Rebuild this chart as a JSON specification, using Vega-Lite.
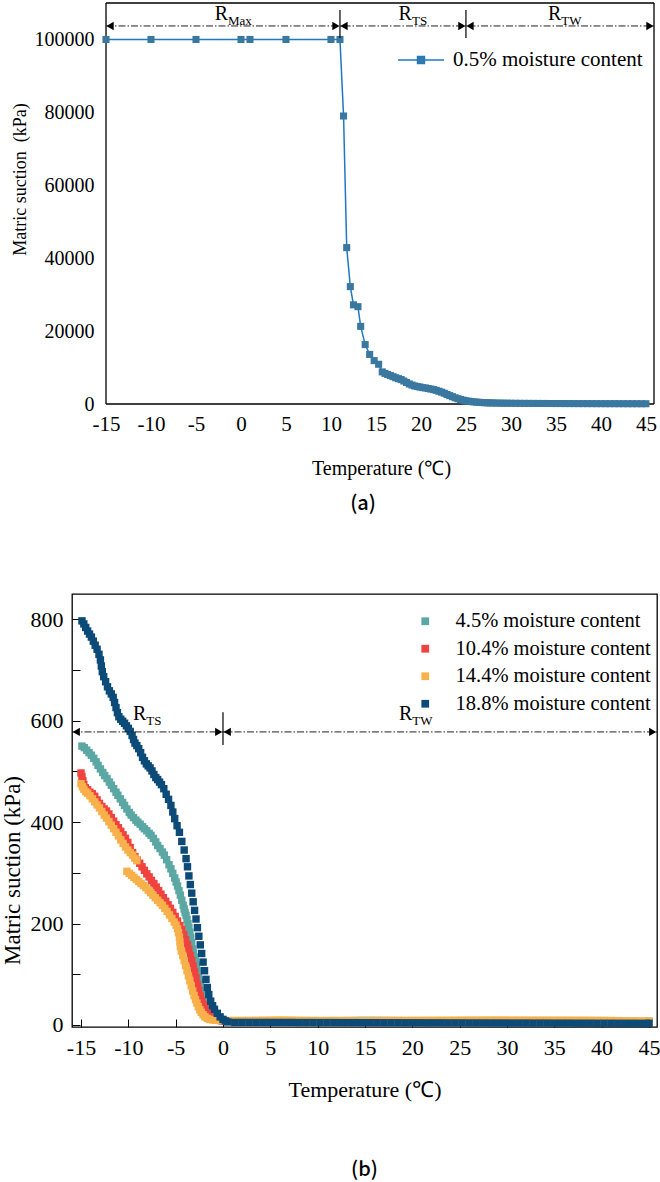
{
"$schema":"https://vega.github.io/schema/vega-lite/v6.json",
"padding":{"left":0,"top":2,"right":0,"bottom":0},
"background":"white",
"config":{
 "font":"Liberation Serif",
 "view":{"stroke":"#000","strokeWidth":1.3},
 "axis":{"domain":false,"grid":false,"labelColor":"#000","titleColor":"#000","labelFont":"Liberation Serif","titleFont":"Liberation Serif","titleFontWeight":"normal","tickColor":"#000","labelFlush":false},
 "legend":{"labelFont":"Liberation Serif","labelColor":"#000","labelLimit":400}
},
"resolve":{"scale":{"color":"independent","shape":"independent"},"legend":{"color":"independent"}},
"columns":1,
"spacing":79,
"concat":[
{
"width":582,"height":401,
"view":{"stroke":null},
"title":{"text":"(a)","orient":"bottom","font":"Noto Sans CJK SC","fontSize":20,"fontWeight":500,"offset":16,"anchor":"middle","color":"#000"},
"layer":[
 {"data":{"name":"aFrame"},"mark":{"type":"rule","color":"#000","strokeWidth":1.3},
  "encoding":{
   "x":{"field":"t","type":"quantitative","scale":{"domain":[-18.78,45.9],"nice":false,"zero":false},
        "axis":{"title":"Temperature (℃)","values":[-15,-10,-5,0,5,10,15,20,25,30,35,40,45],"labelExpr":"''+datum.value","ticks":false,"labelFlush":false,"labelPadding":9,"labelFont":"Liberation Serif","titleFont":"Liberation Serif","labelFontSize":21,"titleFontSize":20,"titleX":309,"titleY":64,"titleBaseline":"middle"}},
   "x2":{"field":"t2"},
   "y":{"field":"s","type":"quantitative","scale":{"domain":[0,110000],"nice":false},
        "axis":{"title":"Matric suction\u00a0 (kPa)","values":[0,20000,40000,60000,80000,100000],"labelExpr":"''+datum.value","ticks":false,"offset":-34,"labelPadding":12,"labelFont":"Liberation Serif","titleFont":"Liberation Serif","labelFontSize":20,"titleFontSize":18,"titleX":-77,"titleY":176}},
   "y2":{"field":"s2"}
  }},
 {"data":{"name":"a05"},"mark":{"type":"line","strokeWidth":1.5},
  "encoding":{
   "x":{"field":"t","type":"quantitative"},
   "y":{"field":"s","type":"quantitative"},
   "color":{"datum":"0.5%","scale":{"domain":["0.5%"],"range":["#1f78c3"]},
     "legend":{"orient":"none","legendX":325,"legendY":33,"title":null,"padding":0,"symbolType":"M-1,0H-0.15M0.15,0H1M-0.15,-0.15H0.15V0.15H-0.15Z","symbolSize":2116,"labelFont":"Liberation Serif","labelFontSize":21,"labelOffset":8,"labelLimit":400,"labelExpr":"datum.label+' moisture content'",
       "encode":{"symbols":{"update":{"fill":{"value":"#3a78a0"},"stroke":{"value":"#1f78c3"},"strokeWidth":{"value":1.5},"opacity":{"value":1}}}}}}
  }},
 {"data":{"name":"a05"},"mark":{"type":"point","shape":"square","filled":true,"size":50,"color":"#3a78a0","opacity":1},
  "encoding":{"x":{"field":"t","type":"quantitative"},"y":{"field":"s","type":"quantitative"}}},
 {"data":{"name":"aLine"},"mark":{"type":"rule","color":"#222","strokeWidth":1,"strokeDash":[7,2,1.5,2]},
  "encoding":{"x":{"field":"t","type":"quantitative"},"x2":{"field":"t2"},"y":{"field":"s","type":"quantitative"}}},
 {"data":{"name":"aSep"},"mark":{"type":"rule","color":"#000","strokeWidth":1.2},
  "encoding":{"x":{"field":"t","type":"quantitative"},"y":{"field":"s","type":"quantitative"},"y2":{"field":"s2"}}},
 {"data":{"name":"aArr"},"mark":{"type":"point","filled":true,"color":"#000","opacity":1,"size":70},
  "encoding":{"x":{"field":"t","type":"quantitative"},"y":{"field":"s","type":"quantitative"},
   "shape":{"field":"d","type":"nominal","scale":{"domain":["l","r"],"range":["triangle-left","triangle-right"]},"legend":null}}},
 {"data":{"name":"aLab"},"mark":{"type":"text","align":"right","baseline":"alphabetic","fontSize":20,"font":"Liberation Serif","color":"#000"},
  "encoding":{"x":{"field":"t","type":"quantitative"},"y":{"field":"s","type":"quantitative"},"text":{"field":"r"}}},
 {"data":{"name":"aLab"},"mark":{"type":"text","align":"left","baseline":"alphabetic","fontSize":13,"dy":5,"font":"Liberation Serif","color":"#000"},
  "encoding":{"x":{"field":"t","type":"quantitative"},"y":{"field":"s","type":"quantitative"},"text":{"field":"sub"}}}
]
},
{
"width":585,"height":433,
"title":{"text":"(b)","orient":"bottom","font":"Noto Sans CJK SC","fontSize":20,"fontWeight":500,"offset":60,"anchor":"middle","color":"#000"},
"layer":[
 {"data":{"name":"b45"},"mark":{"type":"point","shape":"square","filled":true,"size":55,"opacity":1},
  "encoding":{
   "x":{"field":"t","type":"quantitative","scale":{"domain":[-15.95,45.85],"nice":false,"zero":false},
        "axis":{"title":"Temperature (℃)","values":[-15,-12.5,-10,-7.5,-5,-2.5,0,2.5,5,7.5,10,12.5,15,17.5,20,22.5,25,27.5,30,32.5,35,37.5,40,42.5,45],"labelExpr":"datum.value % 5 === 0 ? ''+datum.value : ''","labelFlush":false,"tickSize":-8,"tickWidth":1,"labelPadding":18,"labelFont":"Liberation Serif","titleFont":"Liberation Serif","labelFontSize":22,"titleFontSize":22,"titleY":62,"titleBaseline":"middle"}},
   "y":{"field":"s","type":"quantitative","scale":{"domain":[-4,850],"nice":false,"zero":false},
        "axis":{"title":"Matric suction (kPa)","values":[0,100,200,300,400,500,600,700,800],"labelExpr":"datum.value % 200 === 0 ? ''+datum.value : ''","tickSize":-8,"tickWidth":1,"labelPadding":17,"labelFont":"Liberation Serif","titleFont":"Liberation Serif","labelFontSize":22,"titleFontSize":23,"titleX":-48,"titleY":276}},
   "color":{"datum":"4.5%","scale":{"domain":["4.5%","10.4%","14.4%","18.8%"],"range":["#5ba7a4","#f0423f","#f8b04b","#0c4a78"]},
     "legend":{"orient":"none","legendX":343,"legendY":17,"title":null,"padding":0,"symbolType":"square","symbolSize":60,"symbolOpacity":1,"labelFont":"Liberation Serif","labelFontSize":20.5,"labelOffset":20,"labelLimit":400,"rowPadding":6.5,"labelExpr":"datum.label+' moisture content'"}}
  }},
 {"data":{"name":"b104"},"mark":{"type":"point","shape":"square","filled":true,"size":55,"opacity":1},
  "encoding":{"x":{"field":"t","type":"quantitative"},"y":{"field":"s","type":"quantitative"},"color":{"datum":"10.4%"}}},
 {"data":{"name":"b144"},"mark":{"type":"point","shape":"square","filled":true,"size":55,"opacity":1},
  "encoding":{"x":{"field":"t","type":"quantitative"},"y":{"field":"s","type":"quantitative"},"color":{"datum":"14.4%"}}},
 {"data":{"name":"b188"},"mark":{"type":"point","shape":"square","filled":true,"size":55,"opacity":1},
  "encoding":{"x":{"field":"t","type":"quantitative"},"y":{"field":"s","type":"quantitative"},"color":{"datum":"18.8%"}}},
 {"data":{"name":"bLine"},"mark":{"type":"rule","color":"#222","strokeWidth":1,"strokeDash":[7,2,1.5,2]},
  "encoding":{"x":{"field":"t","type":"quantitative"},"x2":{"field":"t2"},"y":{"field":"s","type":"quantitative"}}},
 {"data":{"name":"bSep"},"mark":{"type":"rule","color":"#000","strokeWidth":1.2},
  "encoding":{"x":{"field":"t","type":"quantitative"},"y":{"field":"s","type":"quantitative"},"y2":{"field":"s2"}}},
 {"data":{"name":"bArr"},"mark":{"type":"point","filled":true,"color":"#000","opacity":1,"size":70},
  "encoding":{"x":{"field":"t","type":"quantitative"},"y":{"field":"s","type":"quantitative"},
   "shape":{"field":"d","type":"nominal","scale":{"domain":["l","r"],"range":["triangle-left","triangle-right"]},"legend":null}}},
 {"data":{"name":"bLab"},"mark":{"type":"text","align":"right","baseline":"alphabetic","fontSize":20,"font":"Liberation Serif","color":"#000"},
  "encoding":{"x":{"field":"t","type":"quantitative"},"y":{"field":"s","type":"quantitative"},"text":{"field":"r"}}},
 {"data":{"name":"bLab"},"mark":{"type":"text","align":"left","baseline":"alphabetic","fontSize":13,"dy":5,"font":"Liberation Serif","color":"#000"},
  "encoding":{"x":{"field":"t","type":"quantitative"},"y":{"field":"s","type":"quantitative"},"text":{"field":"sub"}}}
]
}
],
"datasets":{
"aFrame":[{"t":-15,"t2":-15,"s":0,"s2":110000},{"t":45.9,"t2":45.9,"s":0,"s2":110000},{"t":-15,"t2":45.9,"s":0,"s2":0},{"t":-15,"t2":45.9,"s":110000,"s2":110000}],
"a05":[
{"t":-15,"s":100000},{"t":-10,"s":100000},{"t":-5,"s":100000},{"t":0,"s":100000},{"t":1,"s":100000},{"t":5,"s":100000},{"t":10,"s":100000},{"t":11,"s":100000},
{"t":11.4,"s":79000},{"t":11.75,"s":42900},{"t":12.15,"s":32200},{"t":12.5,"s":27200},{"t":13.0,"s":26700},{"t":13.3,"s":21300},{"t":13.8,"s":16300},{"t":14.3,"s":13600},{"t":14.8,"s":11900},{"t":15.3,"s":10900},{"t":15.7,"s":8800},
{"t":16.0,"s":8400},{"t":16.3,"s":8100},{"t":16.6,"s":7800},{"t":16.9,"s":7500},{"t":17.2,"s":7200},{"t":17.5,"s":6950},{"t":17.8,"s":6700},{"t":18.1,"s":6300},{"t":18.4,"s":5900},{"t":18.7,"s":5500},{"t":19.0,"s":5200},{"t":19.3,"s":4950},{"t":19.6,"s":4800},{"t":19.9,"s":4650},{"t":20.2,"s":4500},{"t":20.5,"s":4400},{"t":20.8,"s":4250},{"t":21.1,"s":4100},{"t":21.4,"s":3950},{"t":21.7,"s":3750},{"t":22.0,"s":3500},{"t":22.3,"s":3250},{"t":22.6,"s":2950},{"t":22.9,"s":2600},{"t":23.2,"s":2300},{"t":23.5,"s":2000},{"t":23.8,"s":1700},{"t":24.1,"s":1450},{"t":24.4,"s":1250},{"t":24.7,"s":1050},{"t":25.0,"s":880},{"t":25.3,"s":760},{"t":25.6,"s":660},{"t":25.9,"s":580},{"t":26.2,"s":510},{"t":26.5,"s":450},{"t":26.8,"s":400},{"t":27.1,"s":360},{"t":27.4,"s":330},{"t":27.7,"s":300},{"t":28.0,"s":280},{"t":28.4,"s":260},{"t":28.8,"s":240},{"t":29.2,"s":225},{"t":29.6,"s":210},{"t":30.0,"s":200},{"t":30.5,"s":190},{"t":31.0,"s":180},{"t":31.5,"s":172},{"t":32,"s":165},{"t":32.5,"s":158},{"t":33,"s":152},{"t":33.5,"s":146},{"t":34,"s":140},{"t":34.5,"s":135},{"t":35,"s":130},{"t":35.5,"s":126},{"t":36,"s":122},{"t":36.5,"s":118},{"t":37,"s":114},{"t":37.5,"s":110},{"t":38,"s":107},{"t":38.5,"s":104},{"t":39,"s":101},{"t":39.5,"s":98},{"t":40,"s":95},{"t":40.5,"s":92},{"t":41,"s":90},{"t":41.5,"s":88},{"t":42,"s":86},{"t":42.5,"s":84},{"t":43,"s":82},{"t":43.5,"s":80},{"t":44,"s":78},{"t":44.5,"s":76},{"t":45,"s":74}
],
"aLine":[{"t":-15,"t2":45.9,"s":103700}],
"aSep":[{"t":11,"s":100400,"s2":108100},{"t":25,"s":100400,"s2":108100}],
"aArr":[{"t":-14.55,"s":103700,"d":"l"},{"t":10.55,"s":103700,"d":"r"},{"t":11.45,"s":103700,"d":"l"},{"t":24.55,"s":103700,"d":"r"},{"t":25.45,"s":103700,"d":"l"},{"t":45.45,"s":103700,"d":"r"}],
"aLab":[{"t":-1.44,"s":105350,"r":"R","sub":"Max"},{"t":19.0,"s":105350,"r":"R","sub":"TS"},{"t":35.6,"s":105350,"r":"R","sub":"TW"}],
"bLine":[{"t":-15.95,"t2":45.85,"s":578}],
"bSep":[{"t":0,"s":552,"s2":617}],
"bArr":[{"t":-15.5,"s":578,"d":"l"},{"t":-0.45,"s":578,"d":"r"},{"t":0.45,"s":578,"d":"l"},{"t":45.4,"s":578,"d":"r"}],
"bLab":[{"t":-8.1,"s":601,"r":"R","sub":"TS"},{"t":20.0,"s":601,"r":"R","sub":"TW"}],
"b45":[
{"t":-14.9,"s":550},{"t":-14.65,"s":547},{"t":-14.4,"s":542},{"t":-14.15,"s":537},{"t":-13.9,"s":532},{"t":-13.65,"s":526},{"t":-13.4,"s":519},{"t":-13.2,"s":512},{"t":-12.95,"s":505},{"t":-12.7,"s":498},{"t":-12.5,"s":492},{"t":-12.25,"s":486},{"t":-12.0,"s":479},{"t":-11.8,"s":473},{"t":-11.55,"s":466},{"t":-11.3,"s":459},{"t":-11.1,"s":453},{"t":-10.85,"s":446},{"t":-10.6,"s":439},{"t":-10.4,"s":433},{"t":-10.15,"s":426},{"t":-9.9,"s":419},{"t":-9.7,"s":414},{"t":-9.45,"s":409},{"t":-9.2,"s":404},{"t":-9.0,"s":400},{"t":-8.75,"s":396},{"t":-8.5,"s":391},{"t":-8.3,"s":387},{"t":-8.05,"s":383},{"t":-7.8,"s":378},{"t":-7.6,"s":374},{"t":-7.35,"s":368},{"t":-7.1,"s":361},{"t":-6.9,"s":354},{"t":-6.65,"s":348},{"t":-6.4,"s":341},{"t":-6.2,"s":335},{"t":-5.95,"s":326},{"t":-5.7,"s":316},{"t":-5.5,"s":308},{"t":-5.3,"s":299},{"t":-5.1,"s":290},{"t":-4.95,"s":282},{"t":-4.8,"s":274},{"t":-4.65,"s":265},{"t":-4.5,"s":256},{"t":-4.35,"s":246},{"t":-4.2,"s":236},{"t":-4.1,"s":229},{"t":-4.0,"s":222},{"t":-3.9,"s":216},{"t":-3.8,"s":208},{"t":-3.7,"s":200},{"t":-3.6,"s":192},{"t":-3.5,"s":183},{"t":-3.4,"s":173},{"t":-3.3,"s":162},{"t":-3.2,"s":150},{"t":-3.1,"s":142},{"t":-3.0,"s":134},{"t":-2.9,"s":126},{"t":-2.8,"s":118},{"t":-2.7,"s":107},{"t":-2.6,"s":96},{"t":-2.5,"s":85},{"t":-2.4,"s":76},{"t":-2.3,"s":67},{"t":-2.2,"s":59},{"t":-2.1,"s":52},{"t":-2.0,"s":46},{"t":-1.9,"s":40},{"t":-1.8,"s":34},{"t":-1.7,"s":29},{"t":-1.55,"s":24},{"t":-1.4,"s":20},{"t":-1.2,"s":16},{"t":-1.0,"s":13},{"t":-0.75,"s":11},{"t":-0.5,"s":10},{"t":-0.25,"s":9.5},{"t":0,"s":9},
{"t":0.5,"s":8.6},{"t":1.25,"s":8.5},{"t":2,"s":8.5},{"t":2.75,"s":8.4},{"t":3.5,"s":8.4},{"t":4.25,"s":8.4},{"t":5,"s":8.3},{"t":5.75,"s":8.3},{"t":6.5,"s":8.3},{"t":7.25,"s":8.2},{"t":8,"s":8.2},{"t":8.75,"s":8.2},{"t":9.5,"s":8.3},{"t":10.25,"s":8.4},{"t":11,"s":8.5},{"t":11.75,"s":8.6},{"t":12.5,"s":8.7},{"t":13.25,"s":8.8},{"t":14,"s":9},{"t":14.75,"s":9.1},{"t":15.5,"s":9.1},{"t":16.25,"s":9},{"t":17,"s":8.9},{"t":17.75,"s":8.8},{"t":18.5,"s":8.6},{"t":19.25,"s":8.4},{"t":20,"s":8.2},{"t":20.75,"s":8.1},{"t":21.5,"s":8},{"t":22.25,"s":7.9},{"t":23,"s":7.9},{"t":23.75,"s":7.8},{"t":24.5,"s":7.8},{"t":25.25,"s":7.7},{"t":26,"s":7.7},{"t":26.75,"s":7.6},{"t":27.5,"s":7.6},{"t":28.25,"s":7.5},{"t":29,"s":7.5},{"t":29.75,"s":7.5},{"t":30.5,"s":7.4},{"t":31.25,"s":7.4},{"t":32,"s":7.4},{"t":32.75,"s":7.3},{"t":33.5,"s":7.3},{"t":34.25,"s":7.3},{"t":35,"s":7.2},{"t":35.75,"s":7.2},{"t":36.5,"s":7.2},{"t":37.25,"s":7.1},{"t":38,"s":7.1},{"t":38.75,"s":7.1},{"t":39.5,"s":7},{"t":40.25,"s":7},{"t":41,"s":7},{"t":41.75,"s":6.9},{"t":42.5,"s":6.9},{"t":43.25,"s":6.9},{"t":44,"s":6.8},{"t":44.75,"s":6.8},{"t":45,"s":6.8}
],
"b104":[
{"t":-15.0,"s":497},{"t":-14.9,"s":490},{"t":-14.8,"s":482},{"t":-14.7,"s":474},{"t":-14.55,"s":468},{"t":-14.3,"s":464},{"t":-14.05,"s":459},{"t":-13.8,"s":456},{"t":-13.55,"s":451},{"t":-13.3,"s":444},{"t":-13.05,"s":437},{"t":-12.8,"s":431},{"t":-12.55,"s":426},{"t":-12.3,"s":422},{"t":-12.05,"s":416},{"t":-11.8,"s":409},{"t":-11.55,"s":402},{"t":-11.3,"s":395},{"t":-11.05,"s":389},{"t":-10.8,"s":382},{"t":-10.55,"s":375},{"t":-10.3,"s":368},{"t":-10.05,"s":360},{"t":-9.8,"s":350},{"t":-9.55,"s":340},{"t":-9.3,"s":332},{"t":-9.05,"s":325},{"t":-8.8,"s":319},{"t":-8.55,"s":312},{"t":-8.3,"s":305},{"t":-8.05,"s":298},{"t":-7.8,"s":292},{"t":-7.55,"s":285},{"t":-7.3,"s":279},{"t":-7.05,"s":272},{"t":-6.8,"s":265},{"t":-6.55,"s":258},{"t":-6.3,"s":251},{"t":-6.05,"s":244},{"t":-5.8,"s":237},{"t":-5.55,"s":230},{"t":-5.3,"s":222},{"t":-5.05,"s":214},{"t":-4.8,"s":205},{"t":-4.55,"s":196},{"t":-4.35,"s":188},{"t":-4.15,"s":178},{"t":-3.95,"s":168},{"t":-3.75,"s":158},{"t":-3.6,"s":148},{"t":-3.45,"s":137},{"t":-3.3,"s":127},{"t":-3.15,"s":116},{"t":-3.0,"s":105},{"t":-2.85,"s":93},{"t":-2.7,"s":80},{"t":-2.55,"s":68},{"t":-2.4,"s":57},{"t":-2.25,"s":48},{"t":-2.1,"s":41},{"t":-1.95,"s":35},{"t":-1.8,"s":30},{"t":-1.6,"s":25},{"t":-1.4,"s":21},{"t":-1.2,"s":17},{"t":-1.0,"s":14},{"t":-0.7,"s":11},{"t":-0.4,"s":9},{"t":-0.1,"s":8},
{"t":0.5,"s":7.6},{"t":1.25,"s":7.5},{"t":2,"s":7.5},{"t":2.75,"s":7.4},{"t":3.5,"s":7.4},{"t":4.25,"s":7.4},{"t":5,"s":7.3},{"t":5.75,"s":7.3},{"t":6.5,"s":7.3},{"t":7.25,"s":7.2},{"t":8,"s":7.2},{"t":8.75,"s":7.2},{"t":9.5,"s":7.1},{"t":10.25,"s":7.1},{"t":11,"s":7.1},{"t":11.75,"s":7},{"t":12.5,"s":7},{"t":13.25,"s":7},{"t":14,"s":6.9},{"t":14.75,"s":6.9},{"t":15.5,"s":6.9},{"t":16.25,"s":6.8},{"t":17,"s":6.8},{"t":17.75,"s":6.8},{"t":18.5,"s":6.7},{"t":19.25,"s":6.7},{"t":20,"s":6.7},{"t":20.75,"s":6.6},{"t":21.5,"s":6.6},{"t":22.25,"s":6.6},{"t":23,"s":6.5},{"t":23.75,"s":6.5},{"t":24.5,"s":6.5},{"t":25.25,"s":6.5},{"t":26,"s":6.4},{"t":26.75,"s":6.4},{"t":27.5,"s":6.4},{"t":28.25,"s":6.4},{"t":29,"s":6.3},{"t":29.75,"s":6.3},{"t":30.5,"s":6.3},{"t":31.25,"s":6.3},{"t":32,"s":6.2},{"t":32.75,"s":6.2},{"t":33.5,"s":6.2},{"t":34.25,"s":6.2},{"t":35,"s":6.1},{"t":35.75,"s":6.1},{"t":36.5,"s":6.1},{"t":37.25,"s":6.1},{"t":38,"s":6},{"t":38.75,"s":6},{"t":39.5,"s":6},{"t":40.25,"s":6},{"t":41,"s":5.9},{"t":41.75,"s":5.9},{"t":42.5,"s":5.9},{"t":43.25,"s":5.9},{"t":44,"s":5.8},{"t":44.75,"s":5.8},{"t":45,"s":5.8}
],
"b144":[
{"t":-15.0,"s":476},{"t":-14.85,"s":470},{"t":-14.7,"s":465},{"t":-14.5,"s":460},{"t":-14.3,"s":457},{"t":-14.05,"s":452},{"t":-13.8,"s":446},{"t":-13.55,"s":440},{"t":-13.3,"s":434},{"t":-13.05,"s":428},{"t":-12.8,"s":421},{"t":-12.55,"s":414},{"t":-12.3,"s":408},{"t":-12.05,"s":401},{"t":-11.8,"s":394},{"t":-11.55,"s":387},{"t":-11.3,"s":380},{"t":-11.05,"s":373},{"t":-10.8,"s":365},{"t":-10.55,"s":358},{"t":-10.3,"s":351},{"t":-10.05,"s":345},{"t":-9.8,"s":340},{"t":-9.55,"s":335},{"t":-9.3,"s":329},{"t":-9.1,"s":324},
{"t":-10.15,"s":303},{"t":-9.9,"s":299},{"t":-9.65,"s":295},{"t":-9.4,"s":291},{"t":-9.15,"s":287},{"t":-8.9,"s":283},{"t":-8.65,"s":279},{"t":-8.4,"s":275},{"t":-8.15,"s":271},{"t":-7.9,"s":266},{"t":-7.65,"s":261},{"t":-7.4,"s":256},{"t":-7.15,"s":251},{"t":-6.9,"s":246},{"t":-6.65,"s":241},{"t":-6.4,"s":236},{"t":-6.15,"s":230},{"t":-5.9,"s":224},{"t":-5.65,"s":217},{"t":-5.4,"s":210},{"t":-5.15,"s":203},{"t":-4.95,"s":197},{"t":-4.8,"s":190},{"t":-4.7,"s":182},{"t":-4.6,"s":173},{"t":-4.55,"s":164},{"t":-4.5,"s":155},{"t":-4.4,"s":146},{"t":-4.25,"s":137},{"t":-4.1,"s":127},{"t":-3.95,"s":117},{"t":-3.8,"s":107},{"t":-3.65,"s":97},{"t":-3.5,"s":87},{"t":-3.35,"s":77},{"t":-3.2,"s":67},{"t":-3.05,"s":58},{"t":-2.9,"s":50},{"t":-2.75,"s":43},{"t":-2.6,"s":36},{"t":-2.45,"s":30},{"t":-2.3,"s":25},{"t":-2.1,"s":20},{"t":-1.9,"s":16},{"t":-1.65,"s":13},{"t":-1.4,"s":11},{"t":-1.1,"s":10},{"t":-0.8,"s":9.5},{"t":-0.5,"s":9.2},{"t":-0.2,"s":9},
{"t":0.5,"s":8.8},{"t":1.25,"s":8.8},{"t":2,"s":8.9},{"t":2.75,"s":9},{"t":3.5,"s":9.2},{"t":4.25,"s":9.4},{"t":5,"s":9.6},{"t":5.75,"s":9.8},{"t":6.5,"s":9.8},{"t":7.25,"s":9.6},{"t":8,"s":9.3},{"t":8.75,"s":9.1},{"t":9.5,"s":8.9},{"t":10.25,"s":8.8},{"t":11,"s":8.7},{"t":11.75,"s":8.7},{"t":12.5,"s":8.6},{"t":13.25,"s":8.6},{"t":14,"s":8.6},{"t":14.75,"s":8.7},{"t":15.5,"s":8.8},{"t":16.25,"s":8.9},{"t":17,"s":9},{"t":17.75,"s":9},{"t":18.5,"s":9.1},{"t":19.25,"s":9.1},{"t":20,"s":9.2},{"t":20.75,"s":9.2},{"t":21.5,"s":9.3},{"t":22.25,"s":9.3},{"t":23,"s":9.4},{"t":23.75,"s":9.4},{"t":24.5,"s":9.5},{"t":25.25,"s":9.6},{"t":26,"s":9.7},{"t":26.75,"s":9.7},{"t":27.5,"s":9.8},{"t":28.25,"s":9.8},{"t":29,"s":9.8},{"t":29.75,"s":9.8},{"t":30.5,"s":9.7},{"t":31.25,"s":9.7},{"t":32,"s":9.7},{"t":32.75,"s":9.6},{"t":33.5,"s":9.6},{"t":34.25,"s":9.6},{"t":35,"s":9.5},{"t":35.75,"s":9.5},{"t":36.5,"s":9.5},{"t":37.25,"s":9.4},{"t":38,"s":9.4},{"t":38.75,"s":9.3},{"t":39.5,"s":9.2},{"t":40.25,"s":9.1},{"t":41,"s":8.9},{"t":41.75,"s":8.6},{"t":42.5,"s":8.3},{"t":43.25,"s":8.1},{"t":44,"s":8},{"t":44.75,"s":7.9},{"t":45,"s":7.9}
],
"b188":[
{"t":-14.9,"s":797},{"t":-14.7,"s":791},{"t":-14.5,"s":784},{"t":-14.3,"s":777},{"t":-14.1,"s":771},{"t":-13.9,"s":765},{"t":-13.7,"s":757},{"t":-13.5,"s":749},{"t":-13.3,"s":741},{"t":-13.1,"s":731},{"t":-12.95,"s":720},{"t":-12.85,"s":708},{"t":-12.75,"s":697},{"t":-12.6,"s":687},{"t":-12.4,"s":677},{"t":-12.2,"s":667},{"t":-12.0,"s":659},{"t":-11.8,"s":653},{"t":-11.6,"s":646},{"t":-11.45,"s":636},{"t":-11.3,"s":626},{"t":-11.15,"s":616},{"t":-11.0,"s":608},{"t":-10.8,"s":603},{"t":-10.6,"s":599},{"t":-10.4,"s":595},{"t":-10.2,"s":590},{"t":-10.0,"s":585},{"t":-9.8,"s":579},{"t":-9.6,"s":571},{"t":-9.45,"s":563},{"t":-9.3,"s":556},{"t":-9.1,"s":551},{"t":-8.9,"s":545},{"t":-8.7,"s":537},{"t":-8.5,"s":528},{"t":-8.3,"s":521},{"t":-8.1,"s":515},{"t":-7.9,"s":511},{"t":-7.7,"s":507},{"t":-7.5,"s":501},{"t":-7.3,"s":494},{"t":-7.1,"s":488},{"t":-6.9,"s":484},{"t":-6.7,"s":479},{"t":-6.5,"s":474},{"t":-6.25,"s":466},{"t":-6.0,"s":455},{"t":-5.75,"s":445},{"t":-5.5,"s":433},{"t":-5.3,"s":420},{"t":-5.1,"s":407},{"t":-4.85,"s":393},{"t":-4.6,"s":380},{"t":-4.35,"s":362},{"t":-4.1,"s":345},{"t":-3.9,"s":328},{"t":-3.75,"s":312},{"t":-3.6,"s":294},{"t":-3.45,"s":277},{"t":-3.3,"s":260},{"t":-3.15,"s":243},{"t":-3.0,"s":226},{"t":-2.85,"s":209},{"t":-2.7,"s":192},{"t":-2.55,"s":175},{"t":-2.4,"s":158},{"t":-2.25,"s":141},{"t":-2.1,"s":124},{"t":-1.95,"s":107},{"t":-1.8,"s":90},{"t":-1.65,"s":74},{"t":-1.5,"s":60},{"t":-1.3,"s":47},{"t":-1.1,"s":38},{"t":-0.9,"s":31},{"t":-0.6,"s":23},{"t":-0.3,"s":16},{"t":0,"s":11},{"t":0.25,"s":8},
{"t":0.5,"s":6},{"t":1.25,"s":5},{"t":2,"s":5},{"t":2.75,"s":5},{"t":3.5,"s":5},{"t":4.25,"s":5},{"t":5,"s":5},{"t":5.75,"s":5},{"t":6.5,"s":5},{"t":7.25,"s":5},{"t":8,"s":4.8},{"t":8.75,"s":4.8},{"t":9.5,"s":4.8},{"t":10.25,"s":4.7},{"t":11,"s":4.7},{"t":11.75,"s":4.7},{"t":12.5,"s":4.6},{"t":13.25,"s":4.6},{"t":14,"s":4.6},{"t":14.75,"s":4.5},{"t":15.5,"s":4.5},{"t":16.25,"s":4.5},{"t":17,"s":4.4},{"t":17.75,"s":4.4},{"t":18.5,"s":4.4},{"t":19.25,"s":4.3},{"t":20,"s":4.3},{"t":20.75,"s":4.3},{"t":21.5,"s":4.2},{"t":22.25,"s":4.2},{"t":23,"s":4.2},{"t":23.75,"s":4.1},{"t":24.5,"s":4.1},{"t":25.25,"s":4.1},{"t":26,"s":4},{"t":26.75,"s":4},{"t":27.5,"s":4},{"t":28.25,"s":3.9},{"t":29,"s":3.9},{"t":29.75,"s":3.9},{"t":30.5,"s":3.8},{"t":31.25,"s":3.8},{"t":32,"s":3.8},{"t":32.75,"s":3.7},{"t":33.5,"s":3.7},{"t":34.25,"s":3.7},{"t":35,"s":3.6},{"t":35.75,"s":3.6},{"t":36.5,"s":3.6},{"t":37.25,"s":3.5},{"t":38,"s":3.5},{"t":38.75,"s":3.5},{"t":39.5,"s":3.4},{"t":40.25,"s":3.4},{"t":41,"s":3.4},{"t":41.75,"s":3.3},{"t":42.5,"s":3.3},{"t":43.25,"s":3.3},{"t":44,"s":3.2},{"t":44.75,"s":3.2},{"t":45,"s":3.2}
]
}
}
